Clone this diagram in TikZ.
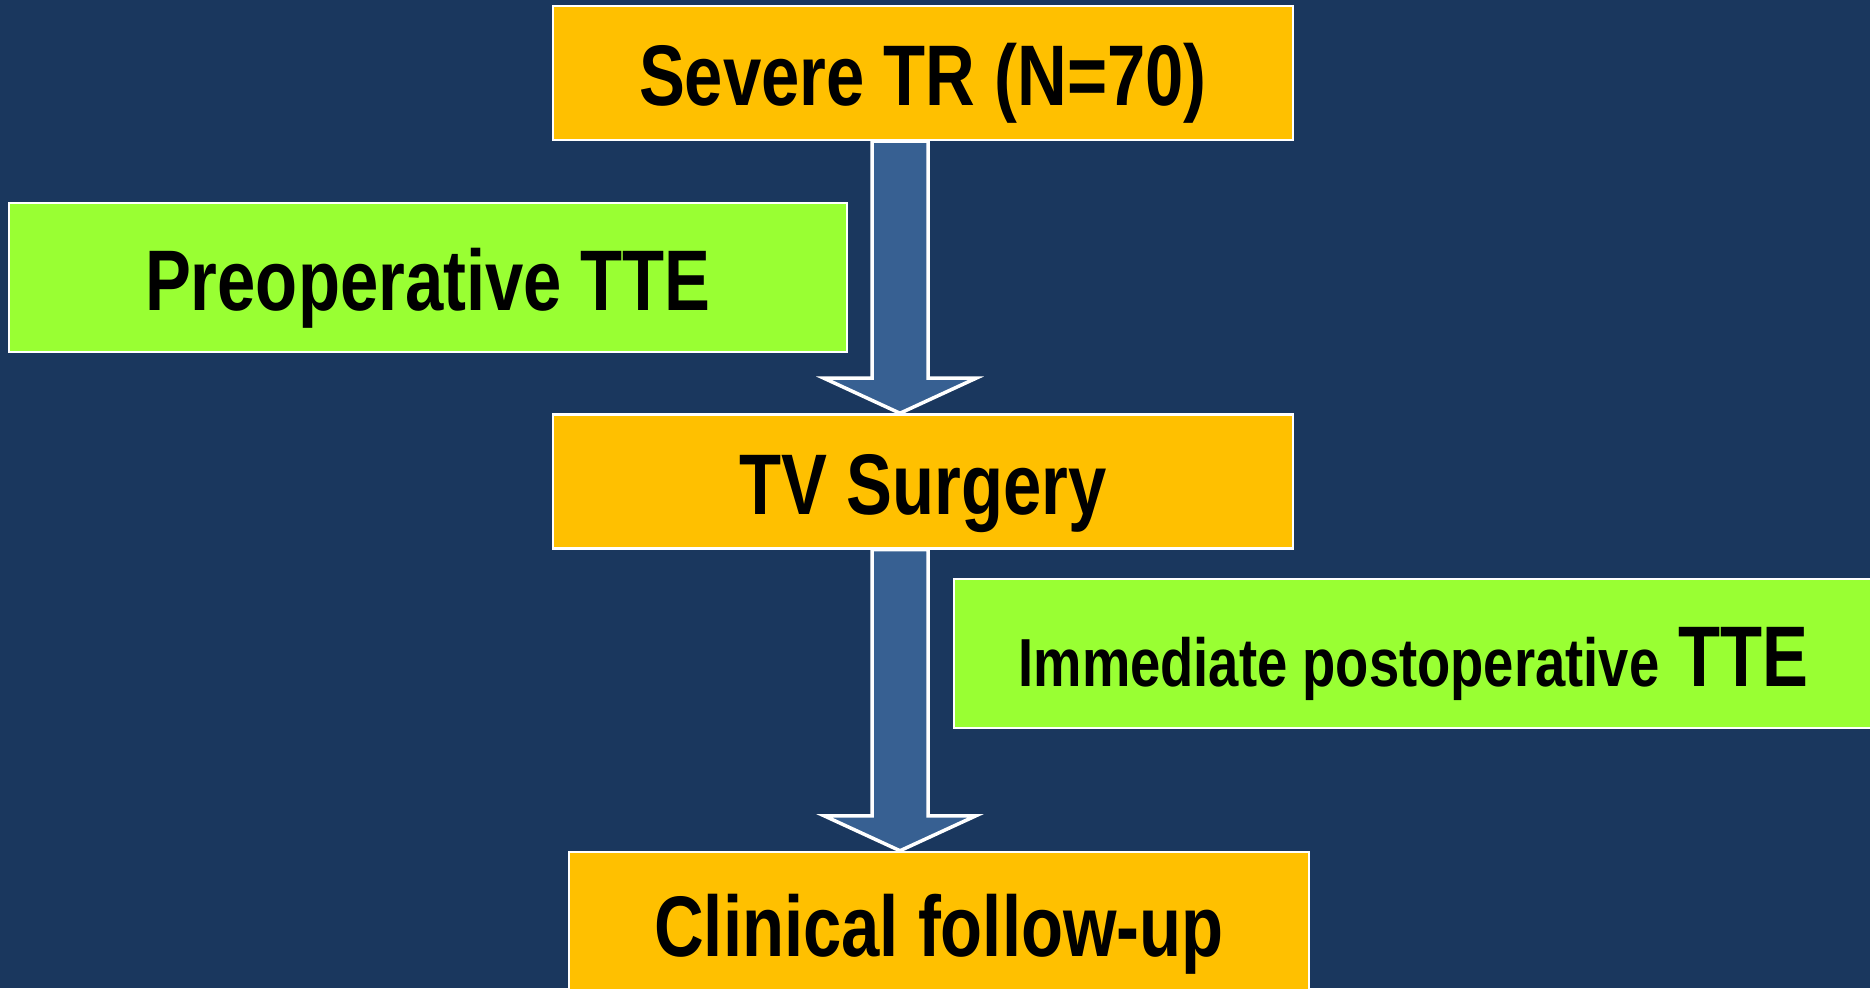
\documentclass[tikz,border=0pt]{standalone}
\usepackage{fontspec}
\setmainfont{Liberation Sans}[FakeStretch=0.8]
\usetikzlibrary{positioning, calc}
\definecolor{slidenavy}{HTML}{1A375E}
\definecolor{boxgold}{HTML}{FFC000}
\definecolor{boxlime}{HTML}{99FF33}
\definecolor{arrowblue}{HTML}{376092}

\begin{document}
\begin{tikzpicture}[x=1pt, y=1pt,
    stage/.style={draw=white, fill=#1, line width=2.5pt, minimum width=740pt, minimum height=134pt, inner sep=0pt, text height=66pt, text depth=0pt, font=\fontsize{86}{96}\selectfont\bfseries},
    echo/.style={stage=boxlime, minimum height=149pt},
    flow/.style={draw=white, fill=arrowblue, line width=3.5pt, line join=miter}
  ]
  \clip (0,0) rectangle (1870,988);
  \fill[slidenavy] (0,0) rectangle (1870,988);
  \coordinate (axis) at (900,0);

  % main steps
  \node[stage=boxgold] (tr) at (923,915) {Severe TR (N=70)};
  \node[stage=boxgold, below=272pt of tr] (tv) {TV Surgery};
  \node[stage=boxgold, minimum height=142pt, below=301pt of tv, xshift=16pt] (fu) {Clinical follow-up};

  % echo checks
  \node[echo, minimum width=838pt] (pre) at (428,710.5) {Preoperative TTE};
  \node[echo, minimum width=919pt] (post) at (1413.5,334.5) {{\fontsize{68}{80}\selectfont Immediate postoperative} TTE};

  % block arrows
  \draw[flow] ($(axis |- tr.south)+(-28,0)$) -- ($(axis |- tv.north)+(-28,35)$) -- ($(axis |- tv.north)+(-76,35)$)
    -- (axis |- tv.north) -- ($(axis |- tv.north)+(76,35)$) -- ($(axis |- tv.north)+(28,35)$) -- ($(axis |- tr.south)+(28,0)$) -- cycle;
  \draw[flow] ($(axis |- tv.south)+(-28,0)$) -- ($(axis |- fu.north)+(-28,35)$) -- ($(axis |- fu.north)+(-76,35)$)
    -- (axis |- fu.north) -- ($(axis |- fu.north)+(76,35)$) -- ($(axis |- fu.north)+(28,35)$) -- ($(axis |- tv.south)+(28,0)$) -- cycle;
\end{tikzpicture}
\end{document}
